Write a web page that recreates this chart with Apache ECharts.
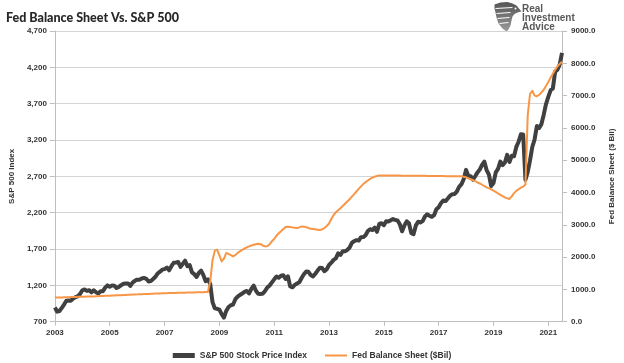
<!DOCTYPE html>
<html>
<head>
<meta charset="utf-8">
<script src="https://cdn.jsdelivr.net/npm/echarts@6/dist/echarts.min.js"></script>
<style>
html,body{margin:0;padding:0;background:#fff;}
#chart{width:624px;height:363px;}
</style>
</head>
<body>
<div id="chart"></div>
<script>
// ---- Data (monthly, Jan 2003 .. Jul 2021) ----
const startYear = 2003;
const sp500 = [
  895.8, 837.6, 846.6, 890.0, 935.9, 988.0, 992.5, 989.5, 1019.4, 1038.7, 1049.9, 1080.6,
  1132.5, 1143.4, 1124.0, 1133.1, 1102.8, 1132.8, 1105.8, 1088.9, 1117.7, 1118.1, 1168.9, 1199.2,
  1181.4, 1199.6, 1194.9, 1164.4, 1178.3, 1202.3, 1222.2, 1224.3, 1225.9, 1191.9, 1237.4, 1262.1,
  1278.7, 1276.7, 1293.7, 1302.2, 1290.0, 1253.1, 1260.2, 1287.2, 1317.8, 1363.4, 1388.6, 1416.4,
  1424.2, 1444.8, 1406.8, 1463.6, 1511.1, 1514.5, 1520.7, 1454.6, 1497.1, 1539.7, 1463.4, 1479.2,
  1378.8, 1354.9, 1316.9, 1370.5, 1403.2, 1341.3, 1257.3, 1281.5, 1217.0, 968.8, 883.0, 877.6,
  865.6, 805.2, 757.1, 848.2, 902.4, 926.1, 935.8, 1009.7, 1044.6, 1067.7, 1088.1, 1110.4,
  1123.6, 1089.2, 1152.0, 1197.3, 1125.1, 1083.4, 1079.8, 1087.3, 1122.1, 1171.6, 1198.9, 1241.5,
  1282.6, 1321.1, 1304.5, 1331.5, 1338.3, 1287.3, 1325.2, 1185.3, 1173.9, 1207.2, 1226.4, 1243.3,
  1300.6, 1352.5, 1389.2, 1386.4, 1341.3, 1323.5, 1359.8, 1403.4, 1443.4, 1437.8, 1394.5, 1422.3,
  1480.4, 1512.3, 1550.8, 1570.7, 1639.8, 1618.8, 1668.7, 1670.1, 1687.2, 1720.0, 1783.5, 1807.8,
  1822.4, 1817.0, 1863.5, 1864.3, 1889.8, 1947.1, 1973.1, 1961.5, 1993.2, 1937.3, 2044.6, 2054.3,
  2028.2, 2082.2, 2080.0, 2094.9, 2111.9, 2099.3, 2094.1, 2039.9, 1944.4, 2024.8, 2080.6, 2054.1,
  1918.6, 1904.4, 2022.0, 2075.5, 2065.6, 2083.9, 2148.9, 2177.5, 2157.7, 2143.0, 2165.0, 2246.6,
  2275.1, 2329.9, 2366.8, 2359.3, 2395.3, 2434.0, 2454.1, 2456.2, 2492.8, 2557.0, 2593.6, 2664.3,
  2789.8, 2705.2, 2702.8, 2653.6, 2701.5, 2754.4, 2793.6, 2857.8, 2901.5, 2785.5, 2723.2, 2567.3,
  2607.4, 2754.9, 2803.9, 2903.8, 2854.7, 2890.2, 2996.1, 2897.5, 2982.2, 2977.7, 3104.9, 3176.7,
  3278.2, 3277.3, 2652.4, 2761.9, 2919.6, 3104.7, 3207.6, 3391.7, 3365.5, 3418.7, 3548.9, 3695.3,
  3793.7, 3883.4, 3910.5, 4141.2, 4167.9, 4238.5, 4400.0
];
const fedBalance = [
  746, 748, 750, 753, 755, 757, 760, 762, 764, 766, 769, 771,
  773, 775, 777, 779, 781, 784, 787, 790, 793, 796, 800, 803,
  806, 810, 813, 816, 819, 822, 826, 830, 833, 836, 840, 843,
  846, 849, 852, 855, 858, 861, 864, 867, 870, 873, 876, 879,
  881, 883, 885, 887, 889, 891, 893, 895, 897, 899, 901, 903,
  905, 907, 909, 911, 913, 915, 918, 921, 1250, 1900, 2200, 2230,
  2050, 1866, 1950, 2127, 2100, 2060, 2020, 2060, 2130, 2180, 2220, 2260,
  2300, 2330, 2360, 2380, 2400, 2415, 2400, 2360, 2330, 2340, 2400, 2490,
  2560, 2660, 2740, 2800, 2870, 2935, 2940, 2930, 2920, 2910, 2900, 2920,
  2950, 2940, 2930, 2900, 2880, 2870, 2860, 2850, 2840, 2860, 2900, 2960,
  3040, 3180, 3300, 3390, 3450, 3510, 3580, 3650, 3720, 3790, 3870, 3950,
  4030, 4110, 4190, 4260, 4320, 4370, 4420, 4460, 4490, 4510, 4525, 4530,
  4530, 4530, 4525, 4530, 4530, 4525, 4525, 4525, 4520, 4520, 4520, 4520,
  4520, 4515, 4520, 4520, 4515, 4515, 4515, 4510, 4510, 4510, 4510, 4510,
  4510, 4510, 4510, 4505, 4505, 4505, 4505, 4505, 4505, 4500, 4500, 4490,
  4470, 4440, 4410, 4380, 4350, 4310, 4280, 4240, 4200, 4160, 4130, 4100,
  4060, 4020, 3970, 3930, 3890, 3850, 3820, 3800, 3880, 3980, 4050, 4100,
  4150, 4180, 4250, 6400, 7050, 7150, 7000, 6980, 7020, 7100, 7180, 7300,
  7420, 7550, 7680, 7800, 7900, 7980, 8050
];
const seriesNames = ['S&P 500 Stock Price Index', 'Fed Balance Sheet ($Bil)'];
const xRange = [2003, 2021.5];
const leftRange = [700, 4700];
const rightRange = [0, 9000];

const toPairs = arr => arr.map((v, i) => [startYear + i / 12, v]);

const labelFont = { fontFamily: 'Liberation Sans, Arial, sans-serif', fontWeight: 'bold', fontSize: 8, color: '#333333' };

const chart = echarts.init(document.getElementById('chart'), null, { renderer: 'canvas' });
chart.setOption({
  animation: false,
  backgroundColor: '#ffffff',
  title: {
    text: 'Fed Balance Sheet Vs. S&P 500',
    left: 1, top: 6,
    textStyle: { fontFamily: 'Lato, sans-serif', fontWeight: 900, fontSize: 12.5, color: '#262626' }
  },
  graphic: [
    {
      type: 'group', left: 493, top: 2,
      children: [
        { type: 'polygon', shape: { points: [[2,3],[8,1],[15,0.5],[20,2],[24,4],[29,10],[25,11],[22,12.5],[20,15],[19,19],[18,24],[16,28],[14,30],[10,27],[6,22],[4,16],[3,11],[2,7]] },
          style: { fill: { type: 'linear', x: 0, y: 0, x2: 0, y2: 1, colorStops: [{ offset: 0, color: '#555555' }, { offset: 1, color: '#9a9a9a' }] } } },
        { type: 'line', shape: { x1: 3, y1: 7, x2: 20, y2: 6 }, style: { stroke: '#fff', lineWidth: 1 } },
        { type: 'line', shape: { x1: 4, y1: 12, x2: 18, y2: 11 }, style: { stroke: '#fff', lineWidth: 1 } },
        { type: 'line', shape: { x1: 5, y1: 17, x2: 17, y2: 16 }, style: { stroke: '#fff', lineWidth: 1 } },
        { type: 'line', shape: { x1: 7, y1: 22, x2: 16, y2: 21 }, style: { stroke: '#fff', lineWidth: 1 } },
        { type: 'circle', shape: { cx: 23, cy: 7, r: 1 }, style: { fill: '#fff' } }
      ]
    },
    { type: 'text', left: 522, top: 4, style: { text: 'Real', font: 'bold 10px Liberation Sans, Arial, sans-serif', fill: '#595959' } },
    { type: 'text', left: 522, top: 13, style: { text: 'Investment', font: 'bold 10px Liberation Sans, Arial, sans-serif', fill: '#595959' } },
    { type: 'text', left: 522, top: 22, style: { text: 'Advice', font: 'bold 10px Liberation Sans, Arial, sans-serif', fill: '#595959' } }
  ],
  legend: {
    left: 'center', top: 346,
    itemWidth: 22, itemHeight: 8, itemGap: 18,
    textStyle: { fontFamily: 'Liberation Sans, Arial, sans-serif', fontWeight: 'bold', fontSize: 8.5, color: '#333333' },
    data: [
      { name: seriesNames[0], icon: 'path://M0,0 L22,0 L22,5 L0,5 Z', itemStyle: { color: '#404040' } },
      { name: seriesNames[1], icon: 'path://M0,0 L22,0 L22,2 L0,2 Z', itemStyle: { color: '#F79646' } }
    ]
  },
  grid: { left: 42.7, right: 54, top: 31, bottom: 41.3, containLabel: false },
  xAxis: {
    type: 'value', min: xRange[0], max: xRange[1], interval: 2,
    axisLine: { show: true, lineStyle: { color: '#bfbfbf', width: 1 } },
    axisTick: { show: true, length: 4, lineStyle: { color: '#bfbfbf' } },
    splitLine: { show: false },
    axisLabel: Object.assign({ margin: 7, showMaxLabel: false, formatter: v => (Number.isInteger(v) ? String(v) : '') }, labelFont)
  },
  yAxis: [
    {
      type: 'value', min: leftRange[0], max: leftRange[1], interval: 500,
      name: 'S&P 500 Index', nameLocation: 'middle', nameGap: 36, nameRotate: 90,
      nameTextStyle: labelFont,
      axisLine: { show: true, lineStyle: { color: '#bfbfbf' } },
      axisTick: { show: true, length: 5, lineStyle: { color: '#bfbfbf' } },
      splitLine: { show: true, lineStyle: { color: '#d4d4d4', width: 1 } },
      axisLabel: Object.assign({ margin: 8, formatter: v => v.toLocaleString('en-US') }, labelFont)
    },
    {
      type: 'value', min: rightRange[0], max: rightRange[1], interval: 1000, position: 'right',
      name: 'Fed Balance Sheet ($ Bil)', nameLocation: 'middle', nameGap: 46, nameRotate: 90,
      nameTextStyle: labelFont,
      axisLine: { show: true, lineStyle: { color: '#bfbfbf' } },
      axisTick: { show: true, length: 5, lineStyle: { color: '#bfbfbf' } },
      splitLine: { show: false },
      axisLabel: Object.assign({ margin: 9, formatter: v => v.toFixed(1) }, labelFont)
    }
  ],
  series: [
    {
      name: seriesNames[0], type: 'line', yAxisIndex: 0, data: toPairs(sp500),
      showSymbol: false, symbol: 'none', smooth: false,
      lineStyle: { color: '#404040', width: 4, join: 'round' }, itemStyle: { color: '#404040' }, z: 2
    },
    {
      name: seriesNames[1], type: 'line', yAxisIndex: 1, data: toPairs(fedBalance),
      showSymbol: false, symbol: 'none', smooth: false,
      lineStyle: { color: '#F79646', width: 2, join: 'round' }, itemStyle: { color: '#F79646' }, z: 3
    }
  ]
});
</script>
</body>
</html>
